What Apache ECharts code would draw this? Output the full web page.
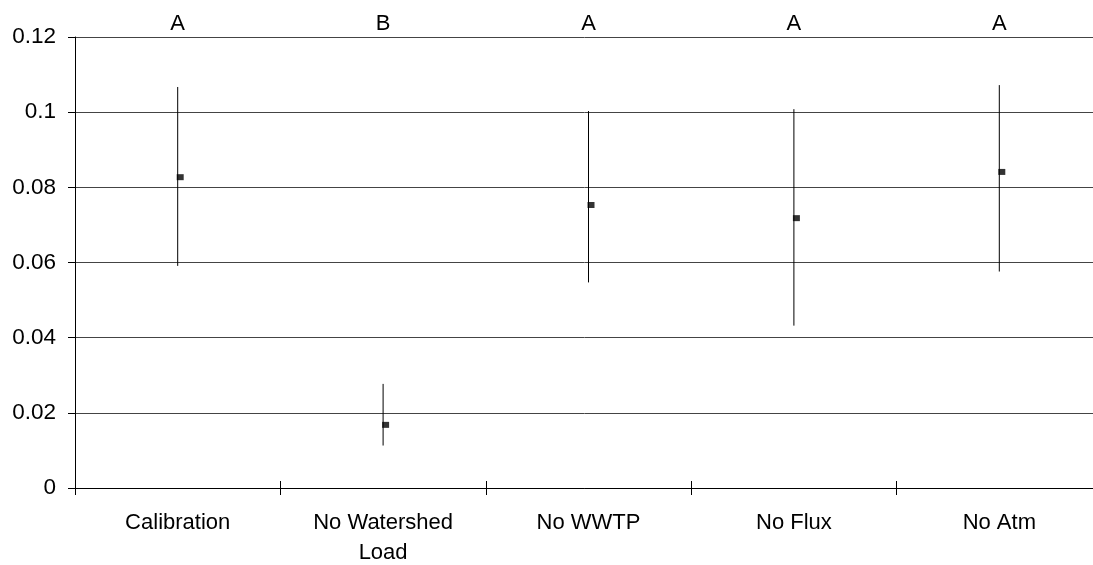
<!DOCTYPE html>
<html>
<head>
<meta charset="utf-8">
<script src="https://cdn.jsdelivr.net/npm/echarts@6/dist/echarts.min.js"></script>
<style>
  html, body { margin: 0; padding: 0; background: #fff; }
  #chart { width: 1093px; height: 565px; }
</style>
</head>
<body>
<div id="chart"></div>
<script>
// Scenario categories and their significance-group letters
const categories = ['Calibration', 'No Watershed\nLoad', 'No WWTP', 'No Flux', 'No Atm'];
const groupLetters = ['A', 'B', 'A', 'A', 'A'];

// Mean value and range (low / high) for each scenario
const meanValues = [0.0827, 0.0168, 0.0753, 0.0718, 0.0841];
const lowValues  = [0.0591, 0.0113, 0.0547, 0.0432, 0.0576];
const highValues = [0.1067, 0.0277, 0.1003, 0.1008, 0.1072];

// Value axis
const yMin = 0, yMax = 0.12, yStep = 0.02;

const FONT = 'Liberation Sans, Arial, sans-serif';

const rangeData = categories.map((c, i) => [i, lowValues[i], highValues[i]]);
const meanData = categories.map((c, i) => [i, meanValues[i]]);

const chart = echarts.init(document.getElementById('chart'), null, { renderer: 'canvas' });
chart.setOption({
  animation: false,
  backgroundColor: '#ffffff',
  // plot area runs slightly past the right edge of the canvas
  grid: { left: 75, top: 37, width: 1027, height: 451, containLabel: false, outerBoundsMode: 'none' },
  xAxis: [
    {
      type: 'category',
      data: categories,
      position: 'bottom',
      boundaryGap: true,
      axisLine: { onZero: false, lineStyle: { color: '#000', width: 1 } },
      axisTick: { show: true, alignWithLabel: false, length: 7, lineStyle: { color: '#000' } },
      axisLabel: { color: '#000', fontFamily: FONT, fontSize: 22, lineHeight: 30, margin: 20, interval: 0 },
      splitLine: { show: false }
    },
    {
      // inner half of the crossing category ticks
      type: 'category',
      data: categories,
      position: 'bottom',
      boundaryGap: true,
      axisLine: { show: false },
      axisTick: { show: true, inside: true, length: 7, lineStyle: { color: '#000' } },
      axisLabel: { show: false },
      splitLine: { show: false }
    },
    {
      // significance letters above the plot
      type: 'category',
      data: groupLetters,
      position: 'top',
      boundaryGap: true,
      axisLine: { show: false },
      axisTick: { show: false },
      axisLabel: { color: '#000', fontFamily: FONT, fontSize: 22, margin: 2, interval: 0 },
      splitLine: { show: false }
    }
  ],
  yAxis: {
    type: 'value',
    min: yMin,
    max: yMax,
    interval: yStep,
    axisLine: { show: true, lineStyle: { color: '#000', width: 1 } },
    axisTick: { show: true, length: 7, lineStyle: { color: '#000' } },
    axisLabel: { color: '#000', fontFamily: FONT, fontSize: 22.5, margin: 19 },
    splitLine: { show: true, lineStyle: { color: '#444', width: 1 } }
  },
  series: [
    {
      type: 'custom',
      name: 'range',
      xAxisIndex: 0,
      data: rangeData,
      encode: { x: 0, y: [1, 2] },
      renderItem: function (params, api) {
        const lo = api.coord([api.value(0), api.value(1)]);
        const hi = api.coord([api.value(0), api.value(2)]);
        return {
          type: 'line',
          shape: { x1: lo[0], y1: lo[1], x2: hi[0], y2: hi[1] },
          style: { stroke: '#000', lineWidth: 1 }
        };
      },
      z: 3
    },
    {
      type: 'scatter',
      name: 'mean',
      xAxisIndex: 0,
      data: meanData,
      symbol: 'rect',
      symbolSize: [7, 6],
      symbolOffset: [2.5, 0],
      itemStyle: { color: '#000' },
      z: 4
    }
  ]
});
</script>
</body>
</html>
